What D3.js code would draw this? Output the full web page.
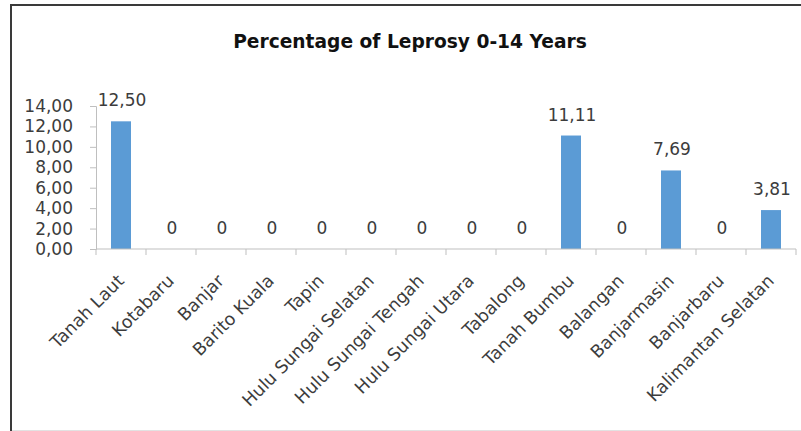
<!DOCTYPE html>
<html>
<head>
<meta charset="utf-8">
<script src="https://cdn.jsdelivr.net/npm/d3@7"></script>
<style>
  html, body { margin: 0; padding: 0; background: #fff; }
  svg { display: block; }
</style>
</head>
<body>
<svg id="chart" width="801" height="431"></svg>
<script>
// Regencies / cities of South Kalimantan
const categories = [
  "Tanah Laut", "Kotabaru", "Banjar", "Barito Kuala", "Tapin",
  "Hulu Sungai Selatan", "Hulu Sungai Tengah", "Hulu Sungai Utara",
  "Tabalong", "Tanah Bumbu", "Balangan", "Banjarmasin", "Banjarbaru",
  "Kalimantan Selatan"
];
// Percentage of leprosy cases aged 0-14
const values = [12.50, 0, 0, 0, 0, 0, 0, 0, 0, 11.11, 0, 7.69, 0, 3.81];
const yTicks = [0, 2, 4, 6, 8, 10, 12, 14];
const title = "Percentage of Leprosy 0-14 Years";

const fmt = v => v === 0 ? "0" : v.toFixed(2).replace(".", ",");
const fmtTick = v => v.toFixed(2).replace(".", ",");

const svg = d3.select("#chart");
const font = "'DejaVu Sans', sans-serif";
const textColor = "#3c3c3c";

// frame
svg.append("line").attr("x1", 10).attr("x2", 801).attr("y1", 5).attr("y2", 5)
  .attr("stroke", "#3a3a3a").attr("stroke-width", 2);
svg.append("line").attr("x1", 11).attr("x2", 11).attr("y1", 4).attr("y2", 431)
  .attr("stroke", "#3a3a3a").attr("stroke-width", 2);
svg.append("line").attr("x1", 12).attr("x2", 801).attr("y1", 430.5).attr("y2", 430.5)
  .attr("stroke", "#e2e2e2").attr("stroke-width", 1);

const x = d3.scaleBand().domain(categories).range([96, 796]);
const y = d3.scaleLinear().domain([0, 14]).range([249, 106]);

// title, sized to span its frame width
const titleText = svg.append("text")
  .attr("x", 410).attr("y", 48)
  .attr("text-anchor", "middle")
  .attr("font-family", font)
  .attr("font-weight", "bold")
  .attr("font-size", 18)
  .attr("fill", "#111")
  .text(title);
const tw = titleText.node().getComputedTextLength();
titleText.attr("font-size", 18 * 354 / tw);

// y axis
const yAxis = d3.axisLeft(y).tickValues(yTicks).tickFormat(fmtTick).tickSize(6).tickPadding(17);
const gy = svg.append("g").attr("transform", "translate(96,0)").call(yAxis);
gy.select(".domain").attr("stroke", "#bfbfbf");
gy.selectAll(".tick line").attr("stroke", "#bfbfbf");
gy.selectAll(".tick text")
  .attr("font-family", font).attr("font-size", 17).attr("fill", textColor);

// bars
svg.append("g").selectAll("rect")
  .data(values)
  .join("rect")
  .attr("x", (d, i) => x(categories[i]) + x.bandwidth() * 0.3)
  .attr("width", x.bandwidth() * 0.4)
  .attr("y", d => y(d))
  .attr("height", d => y(0) - y(d))
  .attr("fill", "#5b9bd5");

// x axis baseline + category ticks
const xAxisG = svg.append("g");
xAxisG.append("line").attr("x1", 96).attr("x2", 796).attr("y1", y(0)).attr("y2", y(0))
  .attr("stroke", "#bfbfbf");
const tickXs = categories.map(c => x(c)).concat([x.range()[1]]);
xAxisG.selectAll("line.tk").data(tickXs).join("line").attr("class", "tk")
  .attr("x1", d => d).attr("x2", d => d)
  .attr("y1", y(0)).attr("y2", y(0) + 6)
  .attr("stroke", "#bfbfbf");

// value labels
svg.append("g").selectAll("text")
  .data(values)
  .join("text")
  .attr("x", (d, i) => x(categories[i]) + x.bandwidth() / 2 + 1)
  .attr("y", d => y(d) - 15)
  .attr("text-anchor", "middle")
  .attr("font-family", font)
  .attr("font-size", 17)
  .attr("fill", textColor)
  .text(fmt);

// rotated category labels
svg.append("g").selectAll("text")
  .data(categories)
  .join("text")
  .attr("transform", c => `translate(${x(c) + x.bandwidth() / 2 + 4},${y(0) + 33}) rotate(-45)`)
  .attr("text-anchor", "end")
  .attr("font-family", font)
  .attr("font-size", 17.5)
  .attr("fill", textColor)
  .text(c => c);
</script>
</body>
</html>
